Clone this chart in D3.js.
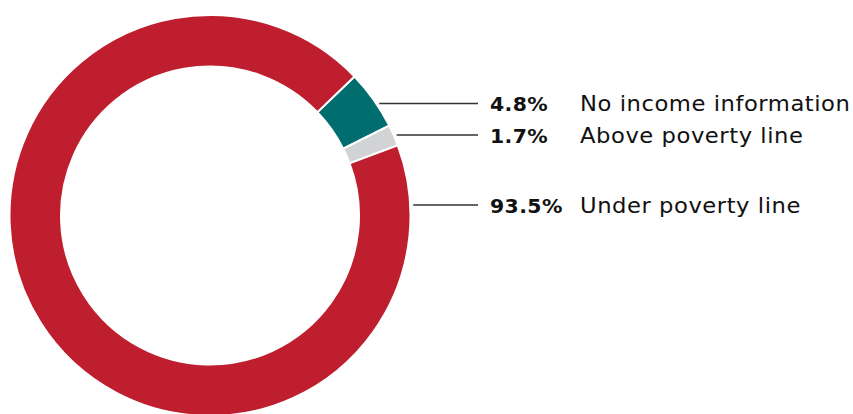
<!DOCTYPE html>
<html>
<head>
<meta charset="utf-8">
<script src="https://cdn.jsdelivr.net/npm/d3@7"></script>
<style>
  html, body { margin: 0; padding: 0; background: #fff; }
  svg { display: block; }
</style>
</head>
<body>
<svg id="chart" width="853" height="414"></svg>
<script>
const categories = ["No income information", "Above poverty line", "Under poverty line"];
const values = [4.8, 1.7, 93.5];
const valueLabels = ["4.8%", "1.7%", "93.5%"];
const colors = ["#006D6F", "#D1D3D4", "#BE1E2D"];
const labelY = [103.5, 135, 205];

const svg = d3.select("#chart");
const cx = 210, cy = 215.5, rOuter = 200.5, rInner = 149;
const startDeg = 46.1;
const start = startDeg * Math.PI / 180;

const pie = d3.pie().sort(null).value(d => d).startAngle(start).endAngle(start + 2 * Math.PI);
const arcs = pie(values);
const arc = d3.arc().innerRadius(rInner).outerRadius(rOuter);

const g = svg.append("g").attr("transform", `translate(${cx},${cy})`);
g.selectAll("path").data(arcs).join("path")
  .attr("d", arc)
  .attr("fill", (d, i) => colors[i])
  .attr("stroke", "#fff")
  .attr("stroke-width", 2);

const lineEnd = 478;
arcs.forEach((a, i) => {
  const y = labelY[i] - cy;
  const x = Math.sqrt(Math.max(0, rOuter * rOuter - y * y));
  svg.append("line")
    .attr("x1", cx + x + 3).attr("x2", lineEnd)
    .attr("y1", labelY[i]).attr("y2", labelY[i])
    .attr("stroke", "#333").attr("stroke-width", 1.3);
  svg.append("text")
    .attr("transform", `translate(490,${labelY[i] + 7.5}) scale(1.02,1)`)
    .attr("font-family", "'DejaVu Sans', sans-serif")
    .attr("font-weight", 700)
    .attr("font-size", 20)
    .attr("letter-spacing", 0.4)
    .attr("fill", "#111")
    .text(valueLabels[i]);
  svg.append("text")
    .attr("transform", `translate(580,${labelY[i] + 7.5}) scale(1.08,1)`)
    .attr("font-family", "'DejaVu Sans', sans-serif")
    .attr("font-size", 21)
    .attr("letter-spacing", 0.5)
    .attr("fill", "#111")
    .text(categories[i]);
});
</script>
</body>
</html>
